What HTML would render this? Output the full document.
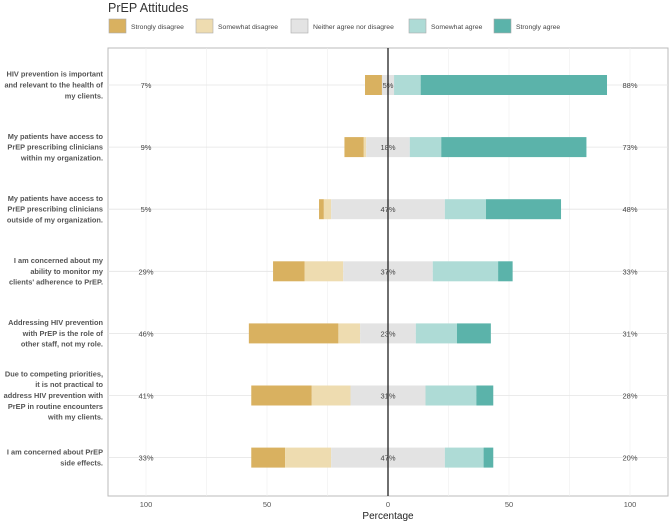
<!DOCTYPE html>
<html><head><meta charset="utf-8"><style>
body{margin:0;background:#fff;font-family:"Liberation Sans",sans-serif;}
svg text{font-family:"Liberation Sans",sans-serif;}
</style></head><body>
<svg id="c" width="669" height="521" xmlns="http://www.w3.org/2000/svg"></svg>
<script>
const categories=["HIV prevention is important|and relevant to the health of|my clients.","My patients have access to|PrEP prescribing clinicians|within my organization.","My patients have access to|PrEP prescribing clinicians|outside of my organization.","I am concerned about my|ability to monitor my|clients' adherence to PrEP.","Addressing HIV prevention|with PrEP is the role of|other staff, not my role.","Due to competing priorities,|it is not practical to|address HIV prevention with|PrEP in routine encounters|with my clients.","I am concerned about PrEP|side effects."];
const stronglyDisagree=[7,8,2,13,37,25,14];
const somewhatDisagree=[0,1,3,16,9,16,19];
const neutral=[5,18,47,37,23,31,47];
const somewhatAgree=[11,13,17,27,17,21,16];
const stronglyAgree=[77,60,31,6,14,7,4];
const leftLabels=["7%","9%","5%","29%","46%","41%","33%"];
const centerLabels=["5%","18%","47%","37%","23%","31%","47%"];
const rightLabels=["88%","73%","48%","33%","31%","28%","20%"];
const ticks=[-100,-50,0,50,100];
const tickLabels=["100","50","0","50","100"];
const legendNames=["Strongly disagree","Somewhat disagree","Neither agree nor disagree","Somewhat agree","Strongly agree"];
const colors=["#d9b160","#eedcb0","#e3e3e3","#aedbd6","#5bb3aa"];

const svg=document.getElementById('c');const NS="http://www.w3.org/2000/svg";
function el(t,a,p){const e=document.createElementNS(NS,t);for(const k in a)e.setAttribute(k,a[k]);(p||svg).appendChild(e);return e;}
const x=v=>388+v*2.42;
const y=i=>85+i*62.1;
const pL=108,pR=668,pT=48,pB=496;
let t=el('text',{x:108,y:12,'font-size':12.5,fill:'#333'});t.textContent="PrEP Attitudes";

const lx=[109,196,291,409,494];
legendNames.forEach((n,i)=>{
 const g=el('g',{});
 
 el('rect',{x:lx[i],y:19,width:17,height:14,fill:colors[i],stroke:'#aaa','stroke-width':0.6},g);
 const tt=el('text',{x:lx[i]+22,y:29,'font-size':6.8,fill:'#444'},g);tt.textContent=n;
});
const panel=el('rect',{x:pL,y:pT,width:pR-pL,height:pB-pT,fill:'#fff',stroke:'#bbb','stroke-width':1});

[-75,-25,25,75].concat(ticks).forEach(v=>el('line',{x1:x(v),x2:x(v),y1:pT,y2:pB,stroke:'#eee','stroke-width':0.6}));
categories.forEach((c,i)=>el('line',{x1:pL,x2:pR,y1:y(i),y2:y(i),stroke:'#e4e4e4','stroke-width':0.8}));
const series=[stronglyDisagree,somewhatDisagree,neutral,somewhatAgree,stronglyAgree];
categories.forEach((c,i)=>{
 let start=-(stronglyDisagree[i]+somewhatDisagree[i]+neutral[i]/2);
 series.forEach((s,k)=>{
  const r=el('rect',{x:x(start),y:y(i)-10,width:s[i]*2.42,height:20,fill:colors[k]});
  
  start+=s[i];
 });
});
const z=el('line',{x1:x(0),x2:x(0),y1:pT,y2:pB,stroke:'#222','stroke-width':1.3});

categories.forEach((c,i)=>{
 const lines=c.split('|');const n=lines.length;
 lines.forEach((ln,j)=>{const tx=el('text',{x:103,y:y(i)+2.5-(n-1)*5.4+j*10.8,'font-size':7.4,'font-weight':'bold',fill:'#555','text-anchor':'end'});tx.textContent=ln;});
 let a=el('text',{x:x(-100),y:y(i)+3,'font-size':7.5,fill:'#444','text-anchor':'middle'});a.textContent=leftLabels[i];
 a=el('text',{x:x(0),y:y(i)+3,'font-size':7.5,fill:'#444','text-anchor':'middle'});a.textContent=centerLabels[i];
 a=el('text',{x:x(100),y:y(i)+3,'font-size':7.5,fill:'#444','text-anchor':'middle'});a.textContent=rightLabels[i];
});
ticks.forEach((v,i)=>{const tx=el('text',{x:x(v),y:507,'font-size':7.5,fill:'#555','text-anchor':'middle'});tx.textContent=tickLabels[i];});
const xt=el('text',{x:388,y:519,'font-size':10,fill:'#222','text-anchor':'middle'});xt.textContent="Percentage";

</script>
</body></html>
